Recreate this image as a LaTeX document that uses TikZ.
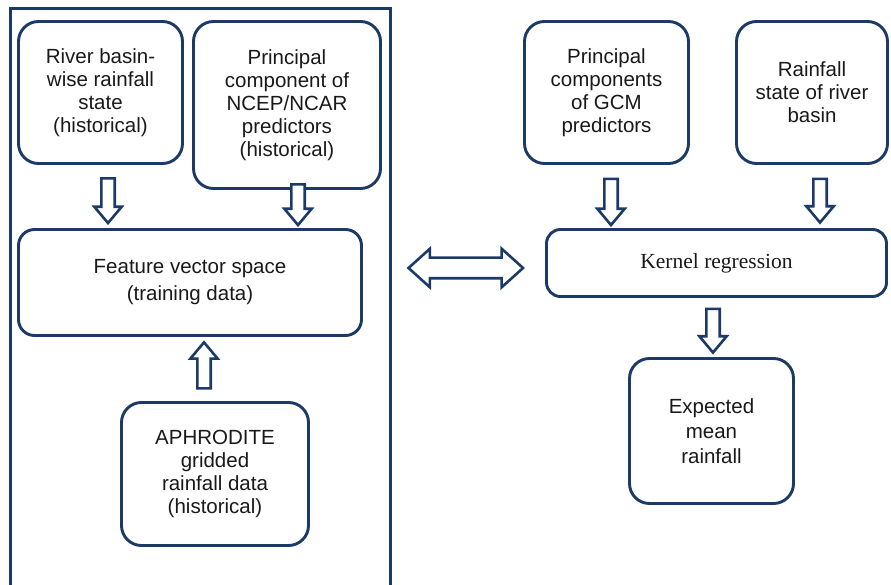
\documentclass[tikz,border=0pt]{standalone}
\usepackage{fontspec}
\setmainfont{Liberation Sans}
\newfontfamily\kernfont{Liberation Serif}
\usetikzlibrary{calc,shapes.arrows}
\definecolor{navy}{RGB}{28,58,104}

\begin{document}
\begin{tikzpicture}[x=1pt, y=-1pt,
  font=\fontsize{20.5}{23}\selectfont,
  box/.style={rectangle, rounded corners=20pt, draw=navy, line width=2.9pt, align=center,
              inner sep=0pt, text=black!90},
  panel/.style={rectangle, draw=navy, line width=3pt, inner sep=0pt},
  hollow/.style={draw=navy, fill=white, line width=2.6pt, inner xsep=0pt,
                 text height=0pt, text depth=0pt},
  fat/.style 2 args={to path={let \p1=($(\tikztostart)!#1!(\tikztotarget)$),
      \p2=($(\tikztotarget)!#2!(\tikztostart)$),
      \n1={veclen(\x2-\x1,\y2-\y1)}, \n2={atan2(\y2-\y1,\x2-\x1)} in
      ($(\p1)!0.5!(\p2)$) node[single arrow, hollow, rotate=\n2, minimum height=\n1,
        inner ysep=5.4pt, single arrow head extend=7pt, single arrow tip angle=80]{}}},
  fatboth/.style 2 args={to path={let \p1=($(\tikztostart)!#1!(\tikztotarget)$),
      \p2=($(\tikztotarget)!#2!(\tikztostart)$),
      \n1={veclen(\x2-\x1,\y2-\y1)}, \n2={atan2(\y2-\y1,\x2-\x1)} in
      ($(\p1)!0.5!(\p2)$) node[double arrow, hollow, rotate=\n2, minimum height=\n1,
        inner ysep=9pt, double arrow head extend=9pt, double arrow tip angle=84]{}}},
]
\useasboundingbox (0,0) rectangle (891,585);
% training side
\node[panel, minimum width=379.5, minimum height=591] (train) at (200.25,304.5) {};
\node[box, minimum width=164, minimum height=142] (river) at (100.5,92.5)
  {River basin-\\wise rainfall\\state\\(historical)};
\node[box, minimum width=187, minimum height=167] (ncep) at (287,105)
  {Principal\\component of\\NCEP/NCAR\\predictors\\(historical)};
\node[box, rounded corners=16pt, minimum width=343, minimum height=106] (feat) at (190,282.5)
  {Feature vector space\\[4pt](training data)};
\node[box, minimum width=187, minimum height=143] (aphro) at (215,474)
  {APHRODITE\\gridded\\rainfall data\\(historical)};
% projection side
\node[box, minimum width=164, minimum height=142] (gcm) at (606.5,92.5)
  {Principal\\components\\of GCM\\predictors};
\node[box, minimum width=151, minimum height=142] (rain) at (812,92.5)
  {Rainfall\\state of river\\basin};
\node[box, rounded corners=14pt, minimum width=340, minimum height=67,
      font=\kernfont\fontsize{21.5}{24}\selectfont] (kern) at (716.5,263) {Kernel regression};
\node[box, minimum width=164, minimum height=145] (expect) at (711.5,431)
  {Expected\\[2pt]mean\\[2pt]rainfall};

\draw[fat={9.5pt}{9pt}]   (river.south -| 108,0) to (feat.north -| 108,0);
\draw[fat={-9.5pt}{7pt}]  (ncep.south -| 298,0)  to (feat.north -| 298,0);
\draw[fat={8.7pt}{9.4pt}] (aphro.north -| 204,0) to (feat.south -| 204,0);
\draw[fat={10pt}{7pt}]    (gcm.south -| 611,0)   to (kern.north -| 611,0);
\draw[fat={10pt}{9.5pt}]  (rain.south -| 820,0)  to (kern.north -| 820,0);
\draw[fat={7pt}{8.5pt}]   (kern.south -| 713,0)  to (expect.north -| 713,0);
\draw[fatboth={17pt}{22pt}] (train.east |- 0,268) to (kern.west |- 0,268);
\end{tikzpicture}
\end{document}
